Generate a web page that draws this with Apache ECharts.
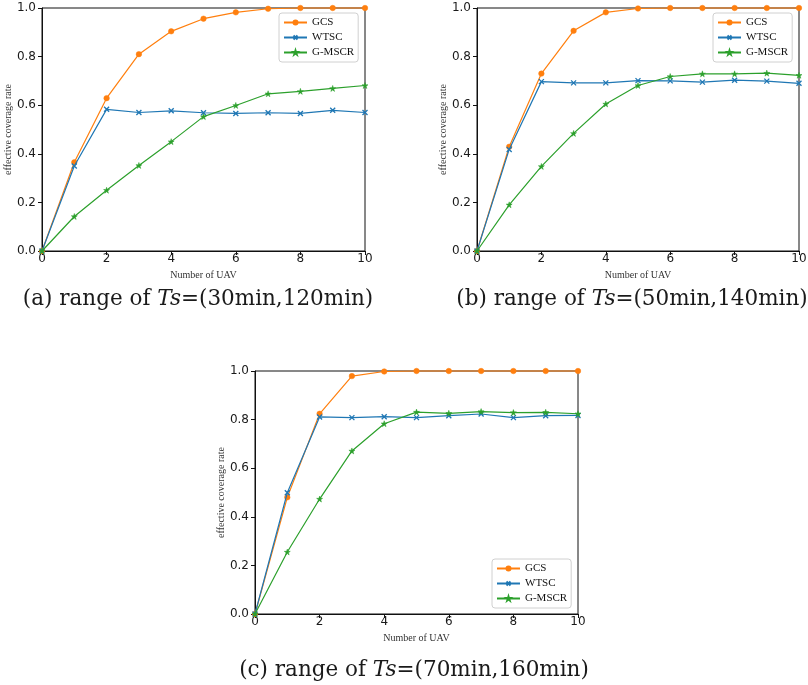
<!DOCTYPE html>
<html>
<head>
<meta charset="utf-8">
<script src="https://cdn.jsdelivr.net/npm/echarts@6/dist/echarts.min.js"></script>
<style>
  html, body { margin: 0; padding: 0; background: #fff; }
  #chart { width: 808px; height: 685px; }
</style>
</head>
<body>
<div id="chart"></div>
<script>
// Number of UAVs on the horizontal axis
const uavCounts = [0, 1, 2, 3, 4, 5, 6, 7, 8, 9, 10];
const xTicks = [0, 2, 4, 6, 8, 10];
const yTicks = [0.0, 0.2, 0.4, 0.6, 0.8, 1.0];
const seriesNames = ['GCS', 'WTSC', 'G-MSCR'];

// (a) Ts in (30min, 120min)
const gcsA   = [0, 0.365, 0.629, 0.810, 0.904, 0.956, 0.982, 0.997, 1.0, 1.0, 1.0];
const wtscA  = [0, 0.350, 0.583, 0.570, 0.577, 0.569, 0.566, 0.569, 0.566, 0.579, 0.570];
const gmscrA = [0, 0.142, 0.250, 0.352, 0.450, 0.553, 0.599, 0.647, 0.657, 0.669, 0.681];

// (b) Ts in (50min, 140min)
const gcsB   = [0, 0.429, 0.730, 0.906, 0.982, 0.998, 1.0, 1.0, 1.0, 1.0, 1.0];
const wtscB  = [0, 0.418, 0.697, 0.692, 0.692, 0.701, 0.700, 0.695, 0.703, 0.699, 0.690];
const gmscrB = [0, 0.190, 0.348, 0.484, 0.605, 0.681, 0.718, 0.729, 0.729, 0.732, 0.723];

// (c) Ts in (70min, 160min)
const gcsC   = [0, 0.480, 0.824, 0.979, 0.998, 1.0, 1.0, 1.0, 1.0, 1.0, 1.0];
const wtscC  = [0, 0.499, 0.811, 0.808, 0.812, 0.808, 0.816, 0.823, 0.808, 0.816, 0.817];
const gmscrC = [0, 0.255, 0.473, 0.671, 0.783, 0.831, 0.826, 0.833, 0.829, 0.830, 0.824];

const captions = [
  '(a) range of {i|Ts}=(30min,120min)',
  '(b) range of {i|Ts}=(50min,140min)',
  '(c) range of {i|Ts}=(70min,160min)'
];

const COLORS = ['#ff7f0e', '#1f77b4', '#2ca02c'];
const SYMBOLS = [
  'circle',
  'path://M0,0L10,10M10,0L0,10',
  'path://M5,0L6.18,3.62L10,3.62L6.91,5.86L8.09,9.5L5,7.26L1.91,9.5L3.09,5.86L0,3.62L3.82,3.62Z'
];
const SYMBOL_SIZES = [5.5, 5, 6];

const panels = [
  { data: [gcsA, wtscA, gmscrA], grid: { left: 42, top: 8, width: 323, height: 243 }, legend: { left: 279, top: 13 }, caption: { x: 198, y: 299 } },
  { data: [gcsB, wtscB, gmscrB], grid: { left: 477, top: 8, width: 322, height: 243 }, legend: { left: 713, top: 13 }, caption: { x: 632, y: 299 } },
  { data: [gcsC, wtscC, gmscrC], grid: { left: 255, top: 371, width: 323, height: 243 }, legend: { left: 492, top: 559 }, caption: { x: 414, y: 670 } }
];

const tickFont = { fontFamily: 'DejaVu Sans', fontSize: 12, color: '#1a1a1a' };
const nameFont = { fontFamily: 'Liberation Serif', fontSize: 10, color: '#333' };

const grids = [], xAxes = [], yAxes = [], series = [], legends = [], graphics = [];

panels.forEach((p, gi) => {
  grids.push(Object.assign({ show: true, borderColor: '#111', borderWidth: 1, backgroundColor: 'transparent', outerBoundsMode: 'none' }, p.grid));

  xAxes.push({
    type: 'value', gridIndex: gi, min: xTicks[0], max: xTicks[xTicks.length - 1], interval: xTicks[1] - xTicks[0],
    name: 'Number of UAV', nameLocation: 'middle', nameGap: 19, nameTextStyle: nameFont,
    axisLine: { show: true, onZero: false, lineStyle: { color: '#111', width: 1 } },
    axisTick: { show: true, inside: false, length: 4, lineStyle: { color: '#111' } },
    axisLabel: Object.assign({ margin: 2 }, tickFont),
    splitLine: { show: false }
  });

  yAxes.push({
    type: 'value', gridIndex: gi, min: yTicks[0], max: yTicks[yTicks.length - 1], interval: yTicks[1] - yTicks[0],
    name: 'effective coverage rate', nameLocation: 'middle', nameGap: 26, nameRotate: 90, nameTextStyle: nameFont,
    axisLine: { show: true, onZero: false, lineStyle: { color: '#111', width: 1 } },
    axisTick: { show: true, inside: false, length: 4, lineStyle: { color: '#111' } },
    axisLabel: Object.assign({ margin: 6, formatter: v => v.toFixed(1) }, tickFont),
    splitLine: { show: false }
  });

  p.data.forEach((vals, si) => {
    const isPath = si === 1;
    series.push({
      name: seriesNames[si],
      type: 'line',
      xAxisIndex: gi, yAxisIndex: gi,
      data: uavCounts.map((x, k) => [x, vals[k]]),
      symbol: SYMBOLS[si],
      symbolSize: SYMBOL_SIZES[si],
      showSymbol: true,
      clip: false,
      lineStyle: { color: COLORS[si], width: 1.2 },
      itemStyle: {
        color: isPath ? 'none' : COLORS[si],
        borderColor: COLORS[si],
        borderWidth: isPath ? 1.3 : 0.5
      },
      emphasis: { disabled: true },
      animation: false,
      z: 2 + si
    });
  });

  legends.push({
    left: p.legend.left, top: p.legend.top,
    orient: 'vertical',
    data: seriesNames,
    itemWidth: 23, itemHeight: 5, itemGap: 0,
    padding: [2, 4, 2, 4],
    borderColor: '#d0d0d0', borderWidth: 1, borderRadius: 3,
    backgroundColor: 'rgba(255,255,255,0.85)',
    textStyle: { fontFamily: 'Liberation Serif', fontSize: 11, color: '#111', lineHeight: 15, height: 15 },
    selectedMode: false
  });

  graphics.push({
    type: 'text',
    x: p.caption.x, y: p.caption.y,
    style: {
      text: captions[gi],
      fill: '#1a1a1a',
      fontFamily: 'DejaVu Serif',
      fontSize: 21.5,
      align: 'center',
      verticalAlign: 'middle',
      rich: {
        i: { fontFamily: 'DejaVu Serif', fontStyle: 'italic', fontSize: 21.5, fill: '#1a1a1a' }
      }
    }
  });
});

const chart = echarts.init(document.getElementById('chart'), null, { renderer: 'canvas' });
chart.setOption({
  backgroundColor: '#fff',
  animation: false,
  grid: grids,
  xAxis: xAxes,
  yAxis: yAxes,
  legend: legends,
  series: series,
  graphic: graphics
});
</script>
</body>
</html>
